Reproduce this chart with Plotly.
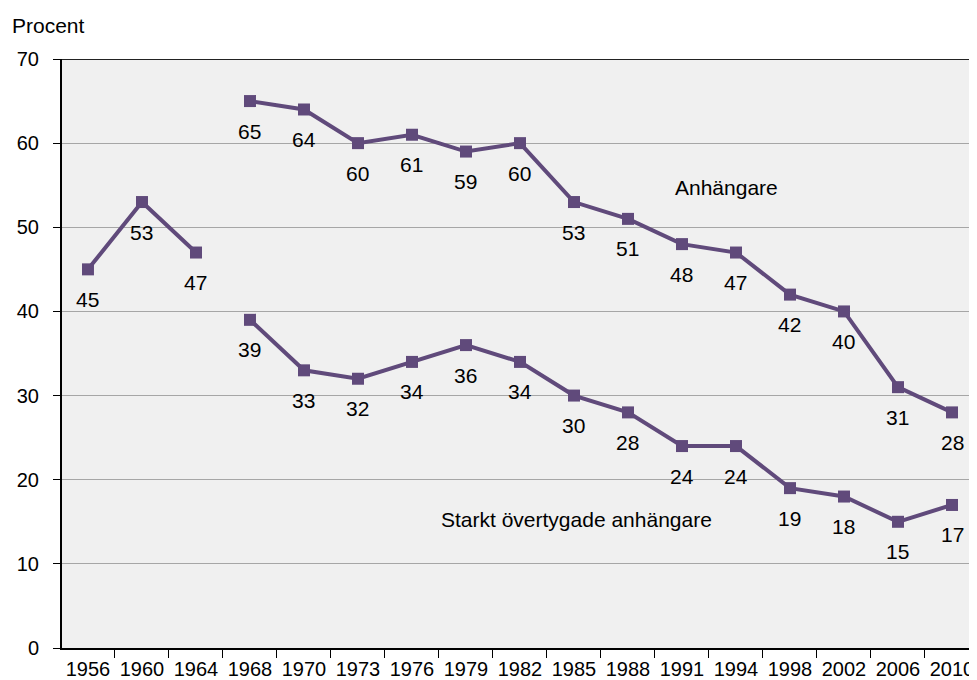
import plotly.graph_objects as go

years = ["1956", "1960", "1964", "1968", "1970", "1973", "1976", "1979", "1982",
         "1985", "1988", "1991", "1994", "1998", "2002", "2006", "2010"]
anh_early_years = ["1956", "1960", "1964"]
anh_early = [45, 53, 47]
anh_late_years = years[3:]
anh_late = [65, 64, 60, 61, 59, 60, 53, 51, 48, 47, 42, 40, 31, 28]
starkt_years = years[3:]
starkt = [39, 33, 32, 34, 36, 34, 30, 28, 24, 24, 19, 18, 15, 17]

COL = "#604a7b"
FONT = "Liberation Sans, Arial, sans-serif"

fig = go.Figure()
for xs, ys in [(anh_early_years, anh_early), (anh_late_years, anh_late), (starkt_years, starkt)]:
    fig.add_trace(go.Scatter(
        x=xs, y=ys, mode="lines+markers",
        line=dict(color=COL, width=4),
        marker=dict(symbol="square", size=12, color=COL),
        showlegend=False, hoverinfo="x+y"))
    for x, y in zip(xs, ys):
        fig.add_annotation(x=years.index(x), y=y, text=str(y), showarrow=False, yshift=-30,
                           font=dict(size=21, color="#000000", family=FONT))

fig.add_annotation(x=11.83, y=54.7, text="Anhängare", showarrow=False,
                   font=dict(size=21, color="#000000", family=FONT))
fig.add_annotation(x=9.04, y=15.3, text="Starkt övertygade anhängare", showarrow=False,
                   font=dict(size=21, color="#000000", family=FONT))
fig.add_annotation(xref="paper", yref="paper", x=-0.057, y=1.0577, xanchor="left", yanchor="middle",
                   text="Procent", showarrow=False,
                   font=dict(size=21, color="#000000", family=FONT))

fig.add_shape(type="line", xref="paper", yref="y", x0=0, x1=1, y0=70, y1=70,
              line=dict(color="#222222", width=2))

fig.update_layout(
    width=969, height=672,
    margin=dict(l=54, r=2, t=51, b=32),
    paper_bgcolor="#ffffff", plot_bgcolor="#f0f0f0",
    font=dict(family=FONT, size=20, color="#000000"),
)
fig.update_xaxes(type="category", categoryorder="array", categoryarray=years,
                 range=[-0.481, 16.426], tickson="boundaries", ticks="outside", ticklen=8,
                 tickcolor="#000000", showline=True, linecolor="#000000", linewidth=2,
                 showgrid=False, tickfont=dict(size=20), automargin=False,
                 ticklabelstandoff=2)
fig.update_yaxes(range=[0, 70], dtick=10, ticks="outside", ticklen=7, tickcolor="#000000",
                 showline=True, linecolor="#000000", linewidth=2, ticklabelstandoff=10,
                 showgrid=True, gridcolor="#a6a6a6", gridwidth=1, zeroline=False,
                 tickfont=dict(size=20), automargin=False)

fig.write_html("out.html")
